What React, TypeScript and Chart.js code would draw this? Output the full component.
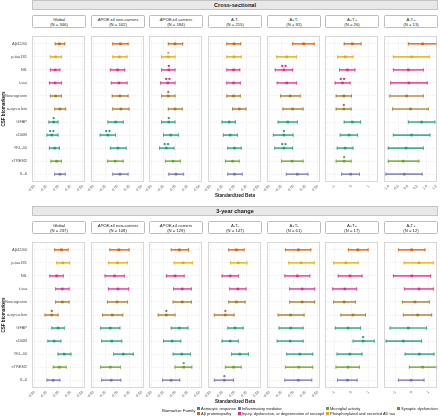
import React, { useEffect, useRef } from 'react';
import { Chart, registerables } from 'chart.js';
Chart.register(...registerables);

const FONT = '"Liberation Sans", Arial, sans-serif';

const biomarkers = ['Aβ42/40', 'p-tau181', 'NfL', 't-tau', 'Neurogranin', 'α-synuclein', 'GFAP', 's100B', 'YKL-40', 'sTREM2', 'IL-6'];
const biomarkerFamily = ['Aβ proteinopathy', 'Phosphorylated and secreted AD tau', 'Injury, dysfunction, or degeneration of neuropil', 'Injury, dysfunction, or degeneration of neuropil', 'Synaptic dysfunction', 'Synaptic dysfunction', 'Astrocytic response', 'Astrocytic response', 'Astrocytic response', 'Microglial activity', 'Inflammatory mediator'];
const familyNames = ['Astrocytic response', 'Aβ proteinopathy', 'Inflammatory mediator', 'Injury, dysfunction, or degeneration of neuropil', 'Microglial activity', 'Phosphorylated and secreted AD tau', 'Synaptic dysfunction'];
const familyColors = ['#1B9E77', '#D95F02', '#7570B3', '#E7298A', '#66A61E', '#E6AB02', '#A6761D'];

const groupNames = ['Global', 'APOE-ε4 non-carriers', 'APOE-ε4 carriers', 'A-T-', 'A+T-', 'A+T+', 'A-T+'];
const crossN = [346, 162, 184, 215, 92, 26, 13];
const changeN = [237, 108, 129, 147, 61, 17, 12];

// x-axis ticks
const smallTicks = [-0.5, -0.25, 0, 0.25, 0.5];
const smallTickLabels = ['-0.50', '-0.25', '0.00', '0.25', '0.50'];
const wideTicks = [-1, 0, 1];
const wideTickLabels = ['-1', '0', '1'];
const halfTicks = [-1, -0.5, 0, 0.5, 1, 1.5];
const halfTickLabels = ['-1.0', '-0.5', '0.0', '0.5', '1.0', '1.5'];

// ---------- Cross-sectional ----------
const xsGlobalBeta = [0.02, -0.06, -0.07, -0.07, -0.06, 0.03, -0.10, -0.14, -0.08, -0.04, 0.03];
const xsGlobalLow = [-0.07, -0.17, -0.17, -0.19, -0.17, -0.08, -0.20, -0.24, -0.19, -0.16, -0.08];
const xsGlobalHigh = [0.13, 0.06, 0.03, 0.06, 0.06, 0.15, -0.01, -0.01, 0.02, 0.06, 0.14];
const xsGlobalStars = [0, 0, 0, 0, 0, 0, 1, 2, 0, 0, 0];

const xsNonCarBeta = [0.06, 0.04, 0.0, 0.03, 0.05, 0.07, -0.04, -0.20, 0.01, -0.05, 0.05];
const xsNonCarLow = [-0.10, -0.10, -0.15, -0.13, -0.11, -0.10, -0.20, -0.36, -0.15, -0.21, -0.10];
const xsNonCarHigh = [0.22, 0.20, 0.15, 0.20, 0.22, 0.24, 0.12, -0.04, 0.18, 0.12, 0.22];
const xsNonCarStars = [0, 0, 0, 0, 0, 0, 0, 2, 0, 0, 0];

const xsCarBeta = [-0.01, -0.15, -0.14, -0.16, -0.15, -0.01, -0.14, -0.10, -0.19, -0.05, 0.01];
const xsCarLow = [-0.15, -0.29, -0.29, -0.31, -0.29, -0.15, -0.29, -0.25, -0.33, -0.21, -0.14];
const xsCarHigh = [0.15, -0.01, -0.01, -0.01, -0.01, 0.14, -0.01, 0.06, -0.03, 0.10, 0.17];
const xsCarStars = [0, 1, 1, 2, 1, 0, 1, 0, 2, 0, 0];

const xsAnTnBeta = [-0.01, -0.01, -0.02, -0.02, -0.02, 0.10, -0.11, -0.09, 0.0, -0.04, 0.0];
const xsAnTnLow = [-0.16, -0.16, -0.16, -0.16, -0.16, -0.04, -0.26, -0.23, -0.14, -0.19, -0.14];
const xsAnTnHigh = [0.13, 0.14, 0.11, 0.12, 0.12, 0.24, 0.02, 0.06, 0.14, 0.10, 0.16];
const xsAnTnStars = [0, 0, 0, 0, 0, 0, 0, 0, 0, 0, 0];

const xsApTnBeta = [0.21, -0.14, -0.20, -0.14, -0.07, -0.02, -0.12, -0.20, -0.20, -0.03, 0.08];
const xsApTnLow = [-0.02, -0.35, -0.38, -0.34, -0.27, -0.22, -0.32, -0.42, -0.39, -0.25, -0.15];
const xsApTnHigh = [0.43, 0.06, -0.02, 0.06, 0.14, 0.20, 0.08, -0.01, -0.02, 0.20, 0.30];
const xsApTnStars = [0, 0, 2, 0, 0, 0, 0, 1, 2, 0, 0];

const xsApTpBeta = [0.05, -0.37, -0.24, -0.53, -0.45, -0.45, 0.05, -0.14, -0.37, -0.43, -0.05];
const xsApTpLow = [-0.43, -0.81, -0.70, -0.96, -0.90, -0.90, -0.43, -0.66, -0.84, -0.90, -0.58];
const xsApTpHigh = [0.56, 0.09, 0.20, -0.08, 0.0, -0.02, 0.53, 0.36, 0.09, -0.02, 0.47];
const xsApTpStars = [0, 0, 0, 2, 0, 1, 0, 0, 0, 1, 0];

const xsAnTpBeta = [0.77, 0.19, 0.02, 0.05, -0.07, 0.14, 0.72, 0.19, -0.10, -0.25, -0.19];
const xsAnTpLow = [0.02, -0.77, -0.77, -0.91, -0.95, -0.81, 0.02, -0.77, -1.04, -1.04, -1.16];
const xsAnTpHigh = [1.51, 1.12, 0.81, 1.02, 0.81, 1.07, 1.42, 1.16, 0.81, 0.58, 0.75];
const xsAnTpStars = [0, 0, 0, 0, 0, 0, 0, 0, 0, 0, 0];

// ---------- 3-year change ----------
const chGlobalBeta = [0.06, 0.09, -0.04, 0.08, 0.08, -0.14, -0.01, -0.09, 0.12, 0.02, -0.11];
const chGlobalLow = [-0.08, -0.04, -0.18, -0.06, -0.06, -0.28, -0.14, -0.22, -0.01, -0.11, -0.24];
const chGlobalHigh = [0.20, 0.23, 0.10, 0.22, 0.22, -0.01, 0.12, 0.05, 0.26, 0.16, 0.03];
const chGlobalStars = [0, 0, 0, 0, 0, 1, 0, 0, 0, 0, 0];

const chNonCarBeta = [0.03, 0.0, -0.06, 0.01, -0.01, -0.11, -0.15, -0.12, 0.12, -0.15, -0.13];
const chNonCarLow = [-0.16, -0.19, -0.26, -0.19, -0.21, -0.31, -0.35, -0.33, -0.08, -0.35, -0.33];
const chNonCarHigh = [0.24, 0.21, 0.14, 0.23, 0.21, 0.11, 0.05, 0.09, 0.33, 0.06, 0.07];
const chNonCarStars = [0, 0, 0, 0, 0, 0, 0, 0, 0, 0, 0];

const chCarBeta = [0.08, 0.16, -0.01, 0.14, 0.14, -0.19, 0.08, -0.07, 0.13, 0.17, -0.09];
const chCarLow = [-0.09, -0.03, -0.19, -0.04, -0.05, -0.36, -0.09, -0.25, -0.05, -0.01, -0.27];
const chCarHigh = [0.27, 0.35, 0.18, 0.33, 0.33, -0.01, 0.26, 0.11, 0.31, 0.34, 0.09];
const chCarStars = [0, 0, 0, 0, 0, 1, 0, 0, 0, 1, 0];

const chAnTnBeta = [0.04, 0.08, -0.09, 0.07, 0.04, -0.19, 0.01, -0.09, 0.11, -0.02, -0.21];
const chAnTnLow = [-0.12, -0.08, -0.26, -0.10, -0.12, -0.42, -0.14, -0.26, -0.06, -0.19, -0.42];
const chAnTnHigh = [0.20, 0.26, 0.08, 0.24, 0.22, -0.01, 0.18, 0.08, 0.29, 0.14, -0.02];
const chAnTnStars = [0, 0, 0, 0, 0, 1, 0, 0, 0, 0, 1];

const chApTnBeta = [0.10, 0.16, 0.08, 0.18, 0.18, -0.06, -0.06, -0.07, 0.13, 0.11, 0.10];
const chApTnLow = [-0.17, -0.10, -0.18, -0.08, -0.08, -0.32, -0.30, -0.34, -0.14, -0.17, -0.18];
const chApTnHigh = [0.36, 0.43, 0.34, 0.44, 0.44, 0.22, 0.20, 0.20, 0.40, 0.40, 0.38];
const chApTnStars = [0, 0, 0, 0, 0, 0, 0, 0, 0, 0, 0];

const chApTpBeta = [0.37, -0.33, -0.09, -0.39, -0.43, 0.09, -0.20, 0.68, -0.10, -0.20, -0.24];
const chApTpLow = [-0.18, -1.05, -0.78, -1.10, -1.05, -0.62, -0.95, 0.09, -0.85, -0.91, -0.82];
const chApTpHigh = [0.97, 0.39, 0.62, 0.30, 0.24, 0.82, 0.53, 1.33, 0.62, 0.47, 0.33];
const chApTpStars = [0, 0, 0, 0, 0, 0, 0, 1, 0, 0, 0];

const chAnTpBeta = [-0.02, 0.42, -0.02, 0.42, 0.18, 0.34, -0.22, -0.52, 0.44, 0.64, -0.06];
const chAnTpLow = [-0.82, -0.48, -1.12, -0.46, -0.58, -0.52, -1.32, -1.56, -0.42, -0.16, -0.82];
const chAnTpHigh = [0.78, 1.28, 1.12, 1.28, 1.04, 1.18, 0.88, 0.58, 1.32, 1.48, 0.72];
const chAnTpStars = [0, 0, 0, 0, 0, 0, 0, 0, 0, 0, 0];

type PanelSpec = { beta: number[]; low: number[]; high: number[]; stars: number[]; xMin: number; xMax: number; ticks: number[]; labels: string[] };

const crossPanels: PanelSpec[] = [
  { beta: xsGlobalBeta, low: xsGlobalLow, high: xsGlobalHigh, stars: xsGlobalStars, xMin: -0.55, xMax: 0.55, ticks: smallTicks, labels: smallTickLabels },
  { beta: xsNonCarBeta, low: xsNonCarLow, high: xsNonCarHigh, stars: xsNonCarStars, xMin: -0.55, xMax: 0.55, ticks: smallTicks, labels: smallTickLabels },
  { beta: xsCarBeta, low: xsCarLow, high: xsCarHigh, stars: xsCarStars, xMin: -0.55, xMax: 0.55, ticks: smallTicks, labels: smallTickLabels },
  { beta: xsAnTnBeta, low: xsAnTnLow, high: xsAnTnHigh, stars: xsAnTnStars, xMin: -0.55, xMax: 0.55, ticks: smallTicks, labels: smallTickLabels },
  { beta: xsApTnBeta, low: xsApTnLow, high: xsApTnHigh, stars: xsApTnStars, xMin: -0.55, xMax: 0.55, ticks: smallTicks, labels: smallTickLabels },
  { beta: xsApTpBeta, low: xsApTpLow, high: xsApTpHigh, stars: xsApTpStars, xMin: -1.55, xMax: 1.55, ticks: wideTicks, labels: wideTickLabels },
  { beta: xsAnTpBeta, low: xsAnTpLow, high: xsAnTpHigh, stars: xsAnTpStars, xMin: -1.26, xMax: 1.53, ticks: halfTicks, labels: halfTickLabels },
];
const changePanels: PanelSpec[] = [
  { beta: chGlobalBeta, low: chGlobalLow, high: chGlobalHigh, stars: chGlobalStars, xMin: -0.55, xMax: 0.55, ticks: smallTicks, labels: smallTickLabels },
  { beta: chNonCarBeta, low: chNonCarLow, high: chNonCarHigh, stars: chNonCarStars, xMin: -0.55, xMax: 0.55, ticks: smallTicks, labels: smallTickLabels },
  { beta: chCarBeta, low: chCarLow, high: chCarHigh, stars: chCarStars, xMin: -0.55, xMax: 0.55, ticks: smallTicks, labels: smallTickLabels },
  { beta: chAnTnBeta, low: chAnTnLow, high: chAnTnHigh, stars: chAnTnStars, xMin: -0.55, xMax: 0.55, ticks: smallTicks, labels: smallTickLabels },
  { beta: chApTnBeta, low: chApTnLow, high: chApTnHigh, stars: chApTnStars, xMin: -0.55, xMax: 0.55, ticks: smallTicks, labels: smallTickLabels },
  { beta: chApTpBeta, low: chApTpLow, high: chApTpHigh, stars: chApTpStars, xMin: -1.55, xMax: 1.55, ticks: wideTicks, labels: wideTickLabels },
  { beta: chAnTpBeta, low: chAnTpLow, high: chAnTpHigh, stars: chAnTpStars, xMin: -1.68, xMax: 1.5, ticks: wideTicks, labels: wideTickLabels },
];

const panelLefts = [32, 91, 149, 208, 267, 325, 384];
const PANEL_W = 54;
const PANEL_H = 150;
const AXIS_H = 16;
const Y_W = 32;
const PAD_L = 12;
const PAD_R = 3;

function colorOf(i: number) {
  return familyColors[familyNames.indexOf(biomarkerFamily[i])];
}
function alpha(hex: string, a: number) {
  const n = parseInt(hex.slice(1), 16);
  return `rgba(${(n >> 16) & 255},${(n >> 8) & 255},${n & 255},${a})`;
}

function Panel({ spec, left, top, first }: { spec: PanelSpec; left: number; top: number; first: boolean }) {
  const ref = useRef<HTMLCanvasElement>(null);
  const padL = first ? 0 : PAD_L;
  const yW = first ? Y_W : 0;
  const cw = padL + yW + PANEL_W + PAD_R;
  const ch = PANEL_H + AXIS_H;
  useEffect(() => {
    if (!ref.current) return;
    const pts = biomarkers.map((_, i) => colorOf(i));
    const lines = pts.map((c) => alpha(c, 0.8));
    const decor = {
      id: 'decor',
      afterDatasetsDraw(chart: any) {
        const { ctx } = chart;
        const xs = chart.scales.x, ys = chart.scales.y;
        ctx.save();
        biomarkers.forEach((_, i) => {
          const yy = ys.getPixelForValue(i);
          ctx.strokeStyle = lines[i];
          ctx.lineWidth = 0.9;
          [spec.low[i], spec.high[i]].forEach((v) => {
            const xx = xs.getPixelForValue(v);
            ctx.beginPath();
            ctx.moveTo(xx, yy - 1.8);
            ctx.lineTo(xx, yy + 1.8);
            ctx.stroke();
          });
          const n = spec.stars[i];
          for (let k = 0; k < n; k++) {
            const cx = xs.getPixelForValue(spec.beta[i]) + (k - (n - 1) / 2) * 3.3;
            ctx.fillStyle = pts[i];
            ctx.beginPath();
            ctx.arc(cx, yy - 4, 1.15, 0, Math.PI * 2);
            ctx.fill();
          }
        });
        ctx.restore();
      },
      afterDraw(chart: any) {
        const { ctx, chartArea: a } = chart;
        ctx.save();
        ctx.strokeStyle = '#cfcfcf';
        ctx.lineWidth = 0.8;
        ctx.strokeRect(a.left + 0.4, a.top + 0.4, a.right - a.left - 0.8, a.bottom - a.top - 0.8);
        ctx.restore();
      },
    };
    const chart = new Chart(ref.current, {
      type: 'bar',
      data: {
        datasets: [
          {
            type: 'bar',
            data: biomarkers.map((_, i) => ({ x: [spec.low[i], spec.high[i]], y: i })) as any,
            backgroundColor: lines,
            barThickness: 1,
            borderWidth: 0,
          } as any,
          {
            type: 'line',
            data: biomarkers.map((_, i) => ({ x: spec.beta[i], y: i })) as any,
            showLine: false,
            pointStyle: 'rect',
            pointRadius: 1.8,
            pointBorderWidth: 0,
            pointBackgroundColor: pts,
            pointBorderColor: pts,
          } as any,
        ],
      },
      options: {
        animation: false,
        responsive: false,
        maintainAspectRatio: false,
        indexAxis: 'y',
        layout: { padding: { left: padL, right: PAD_R, top: 0, bottom: 0 } },
        plugins: { legend: { display: false }, tooltip: { enabled: false }, title: { display: false } },
        scales: {
          x: {
            type: 'linear',
            position: 'bottom',
            offset: false,
            min: spec.xMin,
            max: spec.xMax,
            grid: { color: '#e3e3e3', lineWidth: 0.6, drawTicks: false, offset: false },
            border: { display: false, dash: [1, 1] },
            ticks: {
              autoSkip: false,
              minRotation: 45,
              maxRotation: 45,
              padding: 2,
              color: '#4d4d4d',
              font: { size: 3.6, family: FONT },
              callback: (_v: any, idx: number) => spec.labels[idx],
            },
            afterBuildTicks: (s: any) => {
              s.ticks = spec.ticks.map((v) => ({ value: v }));
            },
            afterFit: (s: any) => {
              s.height = AXIS_H;
              s.paddingLeft = 0;
              s.paddingRight = 0;
            },
          },
          y: {
            type: 'linear',
            reverse: true,
            offset: false,
            min: -0.6,
            max: 10.6,
            grid: { color: '#e3e3e3', lineWidth: 0.6, drawTicks: false, offset: false },
            border: { display: false, dash: [1, 1] },
            ticks: {
              display: first,
              autoSkip: false,
              padding: 5,
              color: '#4d4d4d',
              font: { size: 4, family: FONT },
              callback: (v: any) => biomarkers[v as number],
            },
            title: {
              display: first,
              text: 'CSF biomarkers',
              color: '#1a1a1a',
              font: { size: 4.6, weight: 'bold', family: FONT },
              padding: { top: 1, bottom: 0 },
            },
            afterBuildTicks: (s: any) => {
              s.ticks = biomarkers.map((_, i) => ({ value: i }));
            },
            afterFit: (s: any) => {
              s.width = yW;
              s.paddingTop = 0;
              s.paddingBottom = 0;
            },
          },
        },
      } as any,
      plugins: [decor],
    });
    return () => chart.destroy();
  }, []);
  return (
    <canvas
      ref={ref}
      width={cw}
      height={ch}
      style={{ position: 'absolute', left: left - padL - yW, top, width: cw, height: ch }}
    />
  );
}

function HeaderName({ name }: { name: string }) {
  if (name.startsWith('APOE')) {
    return (
      <span>
        <i>APOE</i>
        {name.slice(4)}
      </span>
    );
  }
  return <span>{name}</span>;
}

function Section({ title, stripTop, ns, panels }: { title: string; stripTop: number; ns: number[]; panels: PanelSpec[] }) {
  const headerTop = stripTop + 15;
  const panelTop = stripTop + 32;
  return (
    <>
      <div
        style={{
          position: 'absolute', left: 32, top: stripTop, width: 406, height: 10, boxSizing: 'border-box',
          background: '#e8e8e8', border: '0.7px solid #c4c4c4', fontFamily: FONT, fontWeight: 'bold',
          fontSize: 5.6, lineHeight: '9px', textAlign: 'center', color: '#1a1a1a',
        }}
      >
        {title}
      </div>
      {groupNames.map((g, i) => (
        <div
          key={g}
          style={{
            position: 'absolute', left: panelLefts[i], top: headerTop, width: PANEL_W, height: 13, boxSizing: 'border-box',
            border: '0.7px solid #bdbdbd', borderRadius: 1.5, background: '#fff', display: 'flex', flexDirection: 'column',
            justifyContent: 'center', alignItems: 'center', fontFamily: FONT, fontSize: 4.2, lineHeight: '5px', color: '#222',
          }}
        >
          <div><HeaderName name={g} /></div>
          <div>(N = {ns[i]})</div>
        </div>
      ))}
      {panels.map((p, i) => (
        <Panel key={i} spec={p} left={panelLefts[i]} top={panelTop} first={i === 0} />
      ))}
      <div
        style={{
          position: 'absolute', left: 32, width: 406, top: panelTop + PANEL_H + 11, height: 6, textAlign: 'center',
          fontFamily: FONT, fontWeight: 'bold', fontSize: 4.6, lineHeight: '6px', color: '#1a1a1a',
        }}
      >
        Standardized Beta
      </div>
    </>
  );
}

const legendRows = [
  ['Astrocytic response', 'Inflammatory mediator', 'Microglial activity', 'Synaptic dysfunction'],
  ['Aβ proteinopathy', 'Injury, dysfunction, or degeneration of neuropil', 'Phosphorylated and secreted AD tau'],
];
const legendCols = [198, 239, 327, 398];

function Legend() {
  return (
    <>
      <div style={{ position: 'absolute', left: 162, top: 408, fontFamily: FONT, fontSize: 4.3, lineHeight: '5px', color: '#1a1a1a' }}>
        Biomarker Family
      </div>
      {legendRows.map((row, r) =>
        row.map((name, c) => {
          const col = familyColors[familyNames.indexOf(name)];
          const cy = r === 0 ? 408.3 : 413.3;
          return (
            <div key={name} style={{ position: 'absolute', left: legendCols[c] - 1.5, top: cy - 2.5, height: 5, display: 'flex', alignItems: 'center', whiteSpace: 'nowrap' }}>
              <div style={{ width: 3, height: 3, background: col }} />
              <div style={{ marginLeft: 1.5, fontFamily: FONT, fontSize: 4, lineHeight: '5px', color: '#1a1a1a' }}>{name}</div>
            </div>
          );
        })
      )}
    </>
  );
}

export default function App() {
  return (
    <div style={{ position: 'absolute', left: 0, top: 0, width: 440, height: 416, background: '#fff', overflow: 'hidden' }}>
      <Section title="Cross-sectional" stripTop={0} ns={crossN} panels={crossPanels} />
      <Section title="3-year change" stripTop={206} ns={changeN} panels={changePanels} />
      <Legend />
    </div>
  );
}
